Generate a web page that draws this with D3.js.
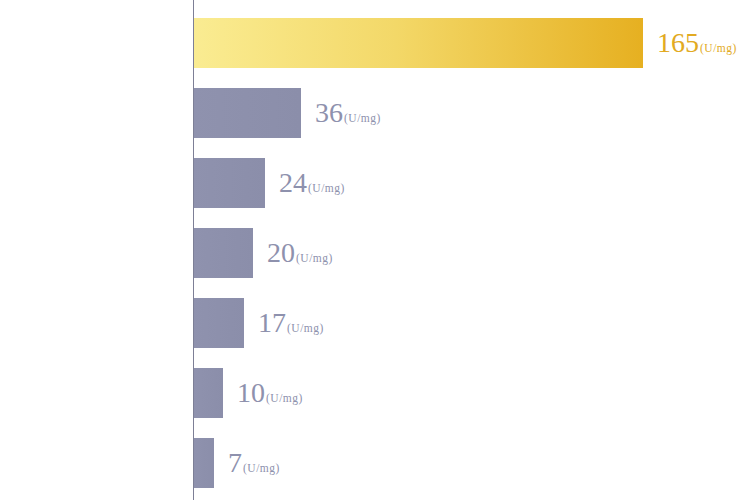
<!DOCTYPE html>
<html>
<head>
<meta charset="utf-8">
<script src="https://cdn.jsdelivr.net/npm/d3@7"></script>
<style>
  html, body { margin: 0; padding: 0; background: #fff; }
  svg { display: block; }
</style>
</head>
<body>
<svg id="chart"></svg>
<script>
// values shown next to each bar, top to bottom
const values = [165, 36, 24, 20, 17, 10, 7];
const unit = '(U/mg)';
const highlight = [true, false, false, false, false, false, false];

const width = 737, height = 500;
const axisX = 193;

const svg = d3.select('#chart')
    .attr('width', width)
    .attr('height', height);

// gradient for the highlighted bar
const defs = svg.append('defs');
const grad = defs.append('linearGradient')
    .attr('id', 'gold')
    .attr('x1', '0%').attr('x2', '100%')
    .attr('y1', '0%').attr('y2', '0%');
grad.append('stop').attr('offset', '0%').attr('stop-color', '#faec92');
grad.append('stop').attr('offset', '45%').attr('stop-color', '#f3d868');
grad.append('stop').attr('offset', '100%').attr('stop-color', '#e6b021');

const grey = defs.append('linearGradient')
    .attr('id', 'grey')
    .attr('x1', '0%').attr('x2', '100%');
grey.append('stop').attr('offset', '0%').attr('stop-color', '#8f92ae');
grey.append('stop').attr('offset', '100%').attr('stop-color', '#8b8eaa');

// the long bar is cut off, so the scale is clamped
const xScale = d3.scaleLinear()
    .domain([0, 150])
    .range([axisX, axisX + 450])
    .clamp(true);

const yScale = d3.scaleBand()
    .domain(values.map((d, i) => i))
    .range([8, 498])
    .paddingInner(2 / 7)
    .paddingOuter(1 / 7);

svg.selectAll('.bar')
    .data(values)
    .join('rect')
    .attr('class', 'bar')
    .attr('x', axisX)
    .attr('y', (d, i) => yScale(i))
    .attr('width', d => xScale(d) - axisX)
    .attr('height', yScale.bandwidth())
    .attr('fill', (d, i) => highlight[i] ? 'url(#gold)' : 'url(#grey)');

// axis line
svg.append('line')
    .attr('x1', axisX + 0.5).attr('x2', axisX + 0.5)
    .attr('y1', 0).attr('y2', height)
    .attr('stroke', '#7d7f96')
    .attr('stroke-width', 1);

// value labels
const labels = svg.selectAll('.label')
    .data(values)
    .join('text')
    .attr('class', 'label')
    .attr('x', d => xScale(d) + 14)
    .attr('y', (d, i) => yScale(i) + yScale.bandwidth() / 2 + 9)
    .attr('fill', (d, i) => highlight[i] ? '#e2aa22' : '#8e91ad')
    .style('font-family', '"Liberation Serif", "DejaVu Serif", serif');

labels.append('tspan')
    .style('font-size', '28px')
    .text(d => d);

labels.append('tspan')
    .attr('dx', 1)
    .style('font-size', '11.5px')
    .style('letter-spacing', '0.5px')
    .text(unit);
</script>
</body>
</html>
